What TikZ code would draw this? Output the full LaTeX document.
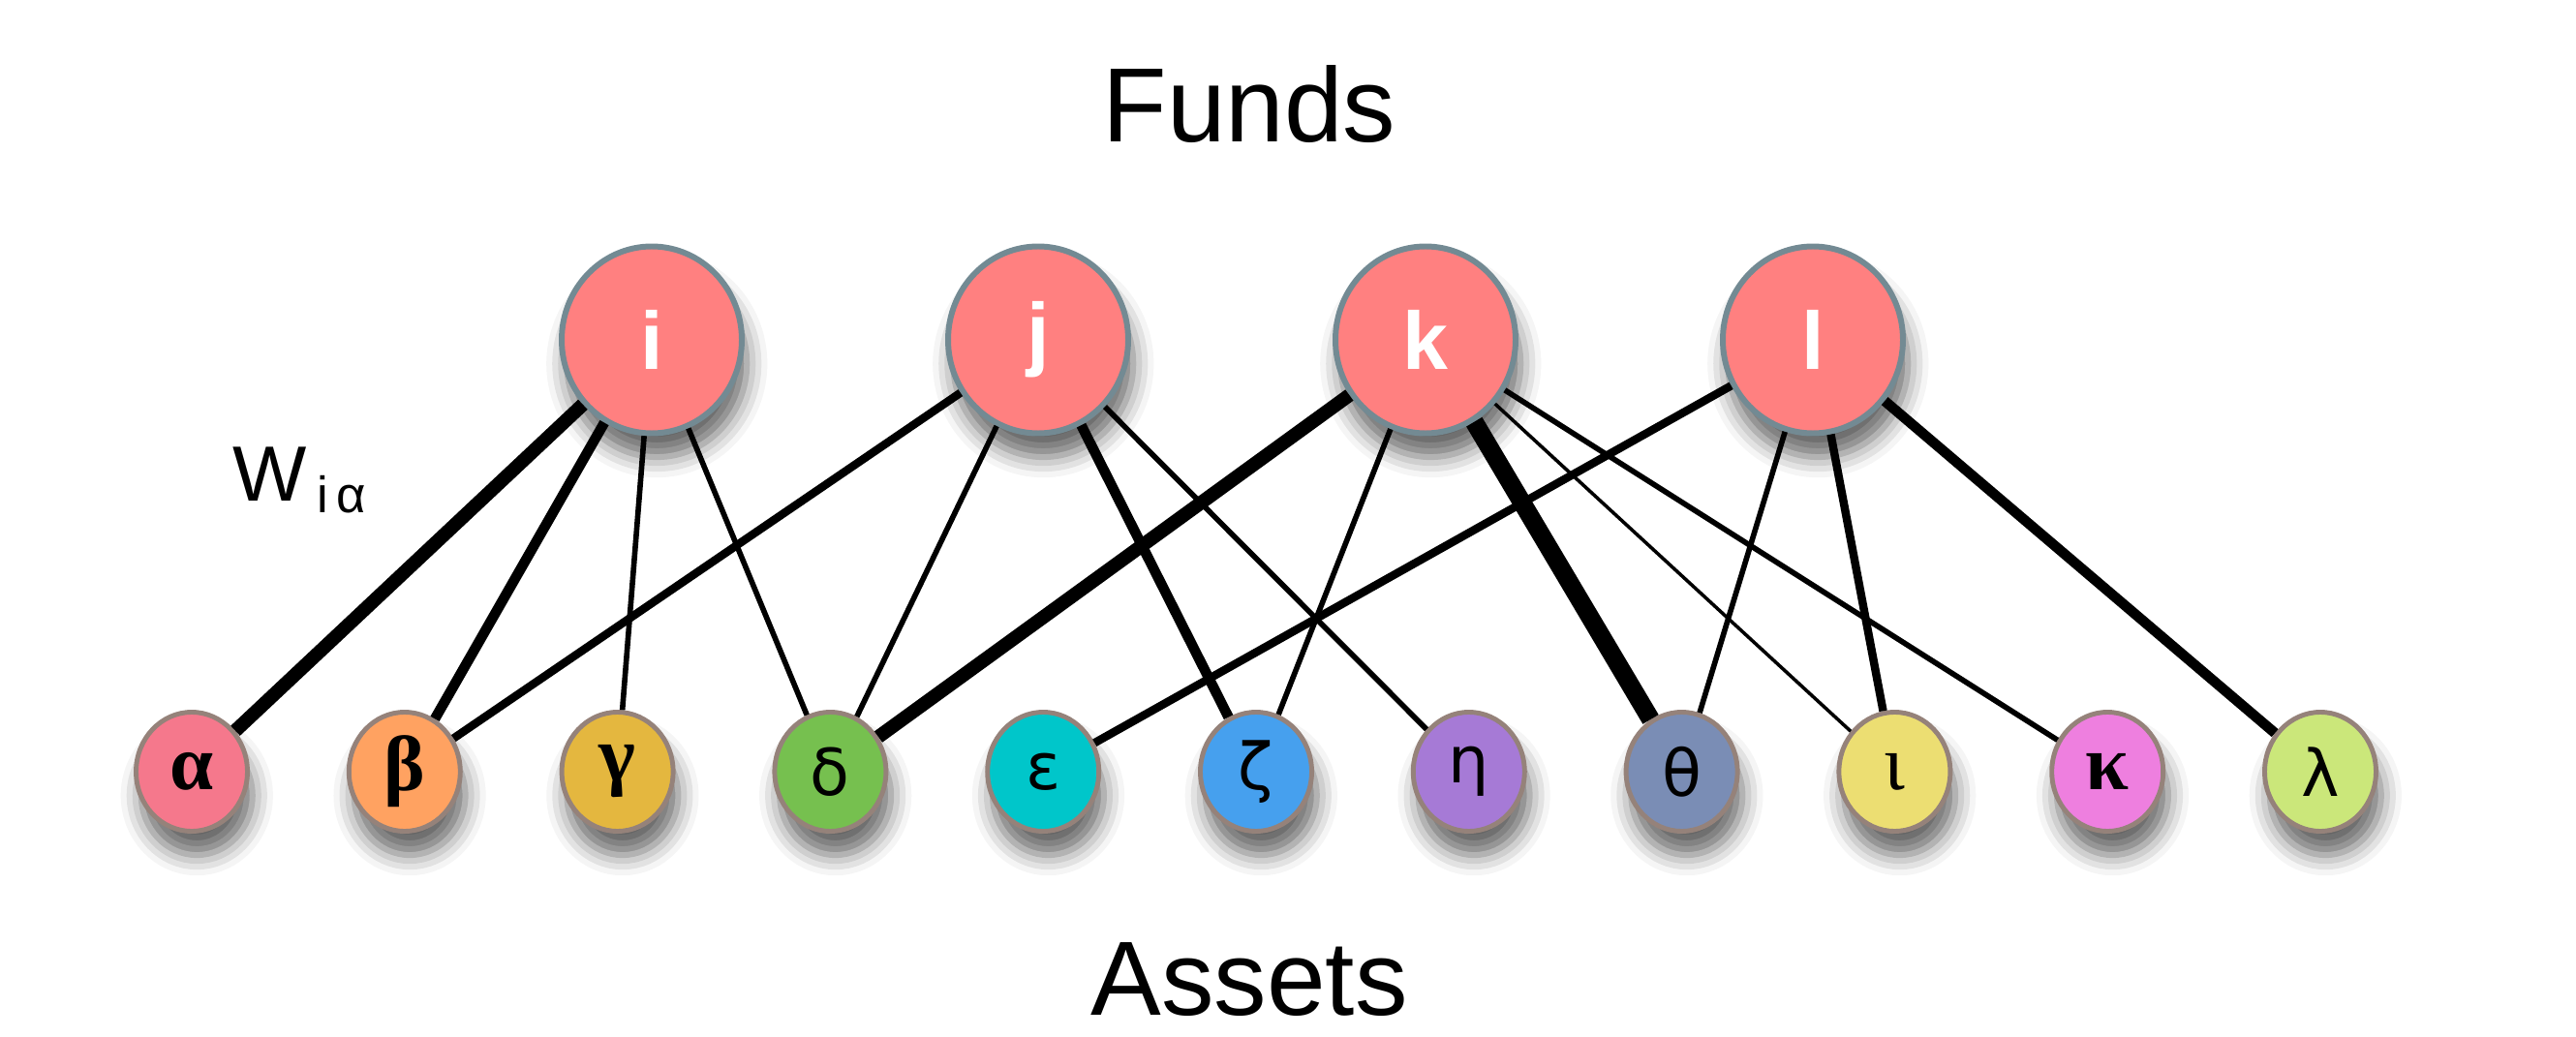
\documentclass[tikz,border=0pt]{standalone}
\usepackage{fontspec}
\setmainfont{Liberation Sans}
\newfontfamily\greekserif{Liberation Serif}
\newfontfamily\greeksans{DejaVu Sans}
\usetikzlibrary{shapes.geometric,shadows.blur}
\definecolor{fundred}{HTML}{FF8080}
\definecolor{fundrim}{HTML}{738A93}
\definecolor{assetrim}{HTML}{95827A}
\definecolor{assetalpha}{HTML}{F5788C}
\definecolor{assetbeta}{HTML}{FFA261}
\definecolor{assetgamma}{HTML}{E4B73F}
\definecolor{assetdelta}{HTML}{76C04F}
\definecolor{assetepsilon}{HTML}{00C6CA}
\definecolor{assetzeta}{HTML}{46A0EE}
\definecolor{asseteta}{HTML}{A67AD6}
\definecolor{assettheta}{HTML}{7A8DB5}
\definecolor{assetiota}{HTML}{ECDE72}
\definecolor{assetkappa}{HTML}{EE7FDF}
\definecolor{assetlambda}{HTML}{CBE77A}
\newcommand\sergreek[1]{{\greekserif\bfseries\fontsize{23}{26}\selectfont #1}}
\newcommand\sanGreek[1]{{\greeksans\fontsize{19}{22}\selectfont #1}}

\begin{document}
\begin{tikzpicture}[
    soft/.style={blur shadow={shadow xshift=1.5pt, shadow yshift=-7pt, shadow blur radius=6pt, shadow opacity=60}},
    fund/.style={ellipse, soft, draw=fundrim, line width=1.7pt, fill=fundred, minimum width=1.86cm, minimum height=1.93cm, inner sep=0pt, text=white, font=\fontsize{24}{28}\selectfont\bfseries},
    asset/.style={ellipse, soft, draw=assetrim, line width=1.4pt, minimum width=1.15cm, minimum height=1.23cm, inner sep=0pt},
    title/.style={font=\fontsize{31}{36}\selectfont, anchor=base},
    wthin/.style={line width=1pt},
    wlow/.style={line width=1.6pt},
    wmid/.style={line width=2.4pt},
    whigh/.style={line width=3pt},
    wtop/.style={line width=4pt},
    wmax/.style={line width=5.4pt}
]

% -------- geometry --------
\def\FY{7.19}
\def\AY{2.73}
\def\AX{1.98}
\def\AS{2.198}
\useasboundingbox (0,0) rectangle (26.6,10.7);

% -------- titles --------
\node[title] (funds) at (12.90,9.23) {Funds};
\node[title] (assets) at (12.90,0.22) {Assets};
\node[anchor=base west, font=\fontsize{23}{27}\selectfont, inner sep=0pt] (weight) at (2.40,5.52)
    {W\hspace{3pt}\raisebox{-3.4pt}{\fontsize{15}{18}\selectfont i\hspace{2.5pt}α}};

% -------- funds --------
\foreach \name/\x in {i/6.73, j/10.72, k/14.72, l/18.72}
    \node[fund] (f\name) at (\x,\FY) {\name};

% -------- assets --------
\foreach \name/\glyph [count=\n from 0] in {
    alpha/{\sergreek{α}}, beta/{\sergreek{β}}, gamma/{\sergreek{γ}},
    delta/{\sanGreek{δ}}, epsilon/{\sanGreek{ε}}, zeta/{\sanGreek{ζ}},
    eta/{\sanGreek{η}}, theta/{\sanGreek{θ}},
    iota/{{\greekserif\fontsize{23}{26}\selectfont ι}},
    kappa/{\sergreek{κ}}, lambda/{\sanGreek{λ}}}
    \node[asset, fill=asset\name] (\name) at ({\AX+\n*\AS},\AY) {\glyph};

% -------- holdings, width ~ weight --------
\foreach \f/\a/\w in {
    i/alpha/wtop, i/beta/whigh, i/gamma/wlow, i/delta/wlow,
    j/beta/wmid, j/delta/wlow, j/zeta/whigh, j/eta/wlow,
    k/delta/wtop, k/zeta/wlow, k/theta/wmax, k/iota/wthin, k/kappa/wlow,
    l/epsilon/wmid, l/theta/wlow, l/iota/wmid, l/lambda/whigh}
    \draw[\w] (f\f) -- (\a);

\end{tikzpicture}
\end{document}
